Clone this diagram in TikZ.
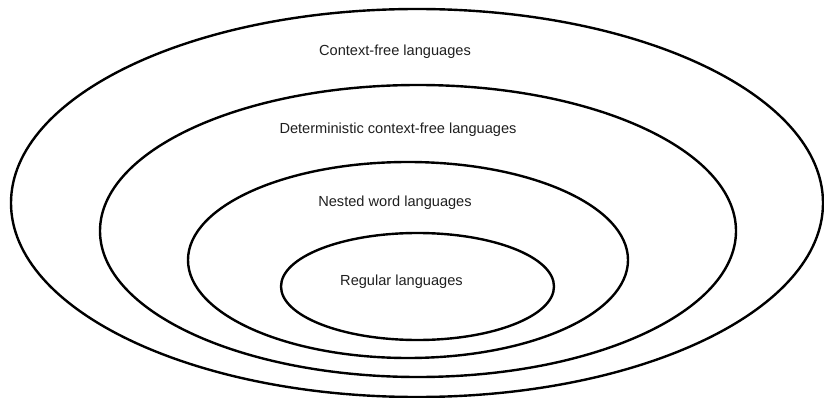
\documentclass[tikz,border=0pt]{standalone}
\usepackage{fontspec}
\setmainfont{Liberation Sans}
\usetikzlibrary{shapes.geometric}
\begin{document}
\begin{tikzpicture}[x=1pt,y=-1pt,
  setbox/.style={draw=black, line width=2.4pt, shape=ellipse, inner sep=0pt},
  label/.style={font=\fontsize{14.6}{17}\selectfont, text=black!88, inner sep=0pt}]
\useasboundingbox (0,0) rectangle (824,398);
\node[setbox, minimum width=812pt, minimum height=388pt] (cfl) at (417,203) {};
\node[setbox, minimum width=636pt, minimum height=292pt] (dcfl) at (418,231) {};
\node[setbox, minimum width=440pt, minimum height=196pt] (nwl) at (408,260) {};
\node[setbox, minimum width=273pt, minimum height=107pt] (reg) at (417.5,286.5) {};
\node[label] (tcfl) at (395,52) {Context-free languages};
\node[label] (tdcfl) at (398,130) {Deterministic context-free languages};
\node[label] (tnwl) at (395,203) {Nested word languages};
\node[label] (treg) at (401.5,282) {Regular languages};
\end{tikzpicture}
\end{document}
